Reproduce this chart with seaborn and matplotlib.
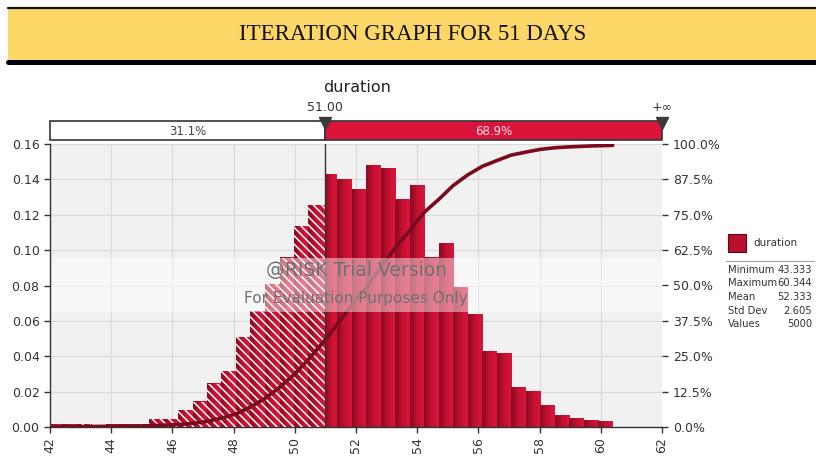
import numpy as np
import pandas as pd
import seaborn as sns
import matplotlib
matplotlib.use("Agg")
import matplotlib.pyplot as plt
from matplotlib.patches import Rectangle
from matplotlib.lines import Line2D
from matplotlib.colors import LinearSegmentedColormap
from matplotlib.ticker import PercentFormatter

title = "ITERATION GRAPH FOR 51 DAYS"
var_name = "duration"
threshold = 51.0
left_pct = "31.1%"
right_pct = "68.9%"

# bins below the threshold (hatched) and above it (solid)
left_edges = [41.92, 42.40, 42.87, 43.34, 43.82, 44.29, 44.76, 45.24, 45.71, 46.18,
              46.66, 47.13, 47.60, 48.08, 48.55, 49.02, 49.50, 49.97, 50.44, 51.00]
left_density = [0.0012, 0.0012, 0.0015, 0.0010, 0.0012, 0.0013, 0.0015,
                0.0045, 0.0045, 0.0094, 0.0143, 0.0244, 0.0316, 0.0507,
                0.0654, 0.0807, 0.0958, 0.1136, 0.1255]
right_edges = [51.00, 51.39, 51.86, 52.34, 52.81, 53.29, 53.76, 54.23, 54.71, 55.18,
               55.65, 56.13, 56.60, 57.07, 57.55, 58.02, 58.49, 58.97, 59.44, 59.91, 60.39]
right_density = [0.1429, 0.1401, 0.1345, 0.1480, 0.1461, 0.1286, 0.1367, 0.0958,
                 0.1038, 0.0790, 0.0635, 0.0428, 0.0413, 0.0222, 0.0203, 0.0122,
                 0.0066, 0.0047, 0.0038, 0.0030]

stat_names = ["Minimum", "Maximum", "Mean", "Std Dev", "Values"]
stat_values = ["43.333", "60.344", "52.333", "2.605", "5000"]

x_ticks = list(range(42, 63, 2))
y_ticks = [0.00, 0.02, 0.04, 0.06, 0.08, 0.10, 0.12, 0.14, 0.16]
pct_ticks = [0.0, 0.125, 0.25, 0.375, 0.5, 0.625, 0.75, 0.875, 1.0]

# ---- style ----
sns.set_theme()
sns.set_style("white")
plt.rcParams['font.family'] = ['DejaVu Sans']
plt.rcParams['hatch.linewidth'] = 1.1

W, H = 816, 465
dark = "#333333"
crimson = "#DC143C"
bar_cmap = LinearSegmentedColormap.from_list("bar", ["#8A0A22", "#C4102F", "#D8163E"])


def fx(px):
  return px / W


def fy(py):
  return 1 - py / H


fig = plt.figure(figsize=(W / 100, H / 100), dpi=100)

# ---- banner ----
fig.patches.append(Rectangle((fx(8), fy(60)), fx(808), 53 / H, transform=fig.transFigure,
                             facecolor="#FCD767", edgecolor="none"))
fig.lines.append(Line2D([fx(8), 1], [fy(8), fy(8)], transform=fig.transFigure, color="#111", lw=1.6))
fig.lines.append(Line2D([fx(8), 1], [fy(61.5), fy(61.5)], transform=fig.transFigure, color="#000", lw=3.6))
fig.text(fx(413), fy(34), title, ha="center", va="center", fontsize=16.5,
         family=["Liberation Serif", "DejaVu Serif"], color="#111")

# ---- main histogram ----
ax = fig.add_axes([fx(50), fy(427), 612 / W, 283 / H])
ax.set_facecolor("#F1F1F1")

left_df = pd.DataFrame({"x": [(a + b) / 2 for a, b in zip(left_edges[:-1], left_edges[1:])],
                        "w": left_density})
right_df = pd.DataFrame({"x": [(a + b) / 2 for a, b in zip(right_edges[:-1], right_edges[1:])],
                         "w": right_density})

sns.histplot(data=left_df, x="x", weights="w", bins=left_edges, ax=ax, element="bars")
n_left = len(ax.patches)
sns.histplot(data=right_df, x="x", weights="w", bins=right_edges, ax=ax, element="bars")

grad = np.linspace(0, 1, 64).reshape(1, -1)
for i, p in enumerate(ax.patches):
  x0, w, h = p.get_x(), p.get_width(), p.get_height()
  ax.imshow(grad, extent=(x0, x0 + w, 0, h), aspect="auto", cmap=bar_cmap,
            interpolation="bilinear", zorder=2)
  p.set_facecolor("none")
  p.set_zorder(3)
  if i < n_left:
    p.set_edgecolor("white")
    p.set_linewidth(0)
    p.set_hatch("\\\\\\\\")
  else:
    p.set_edgecolor("none")
    p.set_linewidth(0)

ax.set_xlim(42, 62)
ax.set_ylim(0, 0.16)
ax.set_xticks(x_ticks)
ax.set_yticks(y_ticks)
ax.yaxis.set_major_formatter(matplotlib.ticker.FormatStrFormatter("%.2f"))
ax.grid(True, color="#DADADA", lw=0.8)
ax.set_axisbelow(True)
ax.set_xlabel("")
ax.set_ylabel("")
for s in ["top", "right"]:
  ax.spines[s].set_visible(False)
for s in ["left", "bottom"]:
  ax.spines[s].set_color(dark)
  ax.spines[s].set_linewidth(1.0)
ax.tick_params(axis="both", direction="out", length=4, width=1, color=dark,
               labelsize=9, labelcolor=dark, left=True, bottom=True)
ax.tick_params(axis="x", labelrotation=90)

# ---- cumulative line (right axis) ----
all_edges = left_edges + right_edges[1:]
all_density = left_density + right_density
cum = np.concatenate([[0], np.cumsum(np.diff(all_edges) * np.array(all_density))])

ax2 = ax.twinx()
ax2.plot(all_edges, cum, color="#7A0A1E", lw=2.6, zorder=4)
ax2.set_ylim(0, 1)
ax2.set_yticks(pct_ticks)
ax2.yaxis.set_major_formatter(PercentFormatter(xmax=1, decimals=1))
ax2.grid(False)
for s in ax2.spines.values():
  s.set_visible(False)
ax2.tick_params(axis="y", direction="out", length=4, width=1, color=dark,
                labelsize=9, labelcolor=dark, right=True, pad=4)
ax2.axvline(threshold, color=dark, lw=1.0, zorder=6)

# watermark band over everything
ymax = 0.16
ax2.axhspan(0.065 / ymax, 0.0955 / ymax, xmin=0.003, color="white", alpha=0.45, lw=0, zorder=7)
ax2.text(52.0, 0.0885 / ymax, "@RISK Trial Version", ha="center", va="center",
         fontsize=13.5, color="#707070", zorder=8)
ax2.text(52.0, 0.0725 / ymax, "For Evaluation Purposes Only", ha="center", va="center",
         fontsize=11, color="#707070", zorder=8)

# ---- threshold strip ----
sa = fig.add_axes([fx(50), fy(140), 612 / W, 19 / H])
sa.set_xlim(42, 62)
sa.set_ylim(0, 1)
sa.axis("off")
sa.add_patch(Rectangle((42, 0), threshold - 42, 1, facecolor="white", edgecolor=dark, lw=1.2, clip_on=False))
sa.add_patch(Rectangle((threshold, 0), 62 - threshold, 1, facecolor=crimson, edgecolor=dark, lw=1.2, clip_on=False))
sa.text((42 + threshold) / 2, 0.45, left_pct, ha="center", va="center", fontsize=8.5, color="#444")
sa.text((threshold + 62) / 2, 0.45, right_pct, ha="center", va="center", fontsize=8.5, color="#FBE3E8")
sa.plot([threshold, 62], [0.9, 0.9], "v", ms=8, color="#3A3A3A", clip_on=False, zorder=5)
sa.annotate("%.2f" % threshold, xy=(threshold, 1), xycoords=("data", "axes fraction"),
            xytext=(0, 5), textcoords="offset points", ha="center", va="bottom",
            fontsize=9, color=dark)
sa.annotate("+\u221e", xy=(62, 1), xycoords=("data", "axes fraction"),
            xytext=(0, 5), textcoords="offset points", ha="center", va="bottom",
            fontsize=9, color=dark)
fig.text(fx(357), fy(87), var_name, ha="center", va="center", fontsize=11.5, color="#222")

# ---- legend / stats box ----
fig.patches.append(Rectangle((fx(728), fy(252)), 18 / W, 18 / H, transform=fig.transFigure,
                             facecolor="#B80F2E", edgecolor="#5E0614", lw=0.8))
fig.text(fx(753), fy(243), var_name, ha="left", va="center", fontsize=7.5, color=dark)
fig.lines.append(Line2D([fx(726), fx(814)], [fy(261), fy(261)], transform=fig.transFigure,
                        color="#A0A0A0", lw=0.8))
for k, (nm, val) in enumerate(zip(stat_names, stat_values)):
  yy = fy(270 + k * 13.5)
  fig.text(fx(728), yy, nm, ha="left", va="center", fontsize=7.2, color=dark)
  fig.text(fx(812), yy, val, ha="right", va="center", fontsize=7.2, color=dark)

fig.savefig("out.png", dpi=100)
